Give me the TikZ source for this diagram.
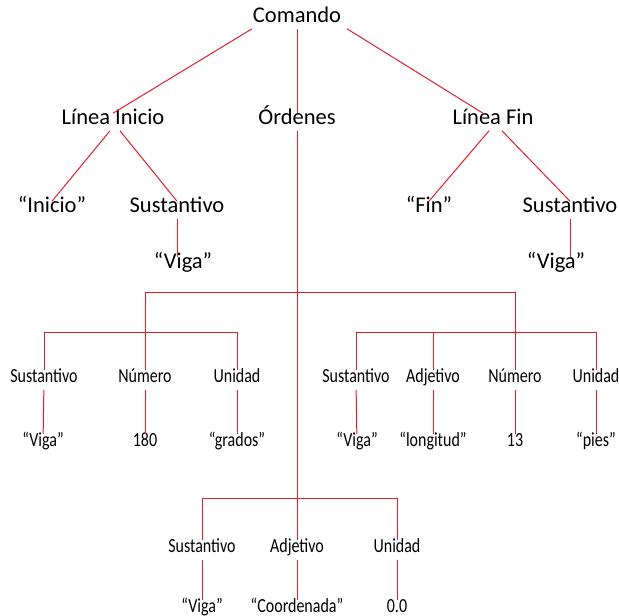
\documentclass[tikz,border=0pt]{standalone}
\usepackage{fontspec}
\setmainfont{Carlito}
\newfontfamily\narrowfont[FakeStretch=0.8]{Carlito}
\definecolor{treered}{RGB}{228,30,38}

\begin{document}
\begin{tikzpicture}[x=1pt,y=-1pt,
        upper/.style={font=\fontsize{22.5}{24}\selectfont,inner sep=4pt,
            text height=0.7em,text depth=0.22em},
        lower/.style={font=\narrowfont\fontsize{20}{22}\selectfont,inner sep=5pt,
            text height=0.7em,text depth=0.22em},
        branch/.style={treered,line width=1pt}]
    \useasboundingbox (0,0) rectangle (619,616);

    % Top of the tree
    \node[upper] (cmd) at (297,20) {Comando};
    \node[upper] (li) at (113,122) {Línea Inicio};
    \node[upper] (ord) at (297,122) {Órdenes};
    \node[upper] (lf) at (493,122) {Línea Fin};

    % Start and end lines
    \node[upper] (ini) at (52,210) {“Inicio”};
    \node[upper] (sus1) at (177,210) {Sustantivo};
    \node[upper] (viga1) at (183,266) {“Viga”};
    \node[upper] (fin) at (429,210) {“Fin”};
    \node[upper] (sus2) at (570,210) {Sustantivo};
    \node[upper] (viga2) at (556,266) {“Viga”};

    % First order
    \node[lower] (a1) at (44,380) {Sustantivo};
    \node[lower] (a2) at (145,380) {Número};
    \node[lower] (a3) at (237,380) {Unidad};
    \node[lower] (va1) at (43,444) {“Viga”};
    \node[lower] (va2) at (145,444) {180};
    \node[lower] (va3) at (237,444) {“grados”};

    % Second order
    \node[lower] (b1) at (356,380) {Sustantivo};
    \node[lower] (b2) at (433,380) {Adjetivo};
    \node[lower] (b3) at (515,380) {Número};
    \node[lower] (b4) at (596,380) {Unidad};
    \node[lower] (vb1) at (357,444) {“Viga”};
    \node[lower] (vb2) at (433,444) {“longitud”};
    \node[lower] (vb3) at (515,444) {13};
    \node[lower] (vb4) at (596,444) {“pies”};

    % Third order
    \node[lower] (c1) at (202,550) {Sustantivo};
    \node[lower] (c2) at (297,550) {Adjetivo};
    \node[lower] (c3) at (397,550) {Unidad};
    \node[lower] (vc1) at (202,610) {“Viga”};
    \node[lower] (vc2) at (297,610) {“Coordenada”};
    \node[lower] (vc3) at (397,610) {0.0};

    % Junctions
    \coordinate (hubA) at (297,292);
    \coordinate (hubA1) at (145,332);
    \coordinate (hubB1) at (515,332);
    \coordinate (hubC) at (297,498);

    % Edges
    \draw[branch] ([xshift=-45pt]cmd.south) -- (li.north);
    \draw[branch] (cmd) -- (ord);
    \draw[branch] ([xshift=50pt]cmd.south) -- ([xshift=-10pt]lf.north);

    \draw[branch] ([xshift=-3pt]li.south) -- (ini.north);
    \draw[branch] ([xshift=7pt]li.south) -- (sus1.north);
    \draw[branch] (sus1) -- (sus1 |- viga1.north);

    \draw[branch] ([xshift=-4pt]lf.south) -- (fin.north);
    \draw[branch] ([xshift=9pt]lf.south) -- (sus2.north);
    \draw[branch] (sus2) -- (sus2 |- viga2.north);

    \draw[branch] (ord) -- (hubC);
    \draw[branch] (hubA) -| (a2);
    \draw[branch] (hubA) -| (b3);

    \draw[branch] (hubA1) -| (a1);
    \draw[branch] (hubA1) -| (a3);
    \draw[branch] (a1) -- (va1);
    \draw[branch] (a2) -- (va2);
    \draw[branch] (a3) -- (va3);

    \draw[branch] (hubB1) -| (b1);
    \draw[branch] (hubB1 -| b2) -- (b2);
    \draw[branch] (hubB1) -| (b4);
    \draw[branch] (b1) -- (vb1);
    \draw[branch] (b2) -- (vb2);
    \draw[branch] (b3) -- (vb3);
    \draw[branch] (b4) -- (vb4);

    \draw[branch] (hubC) -| (c1);
    \draw[branch] (hubC) -- (c2);
    \draw[branch] (hubC) -| (c3);
    \draw[branch] (c1) -- (vc1);
    \draw[branch] (c2) -- (vc2);
    \draw[branch] (c3) -- (vc3);

\end{tikzpicture}
\end{document}
